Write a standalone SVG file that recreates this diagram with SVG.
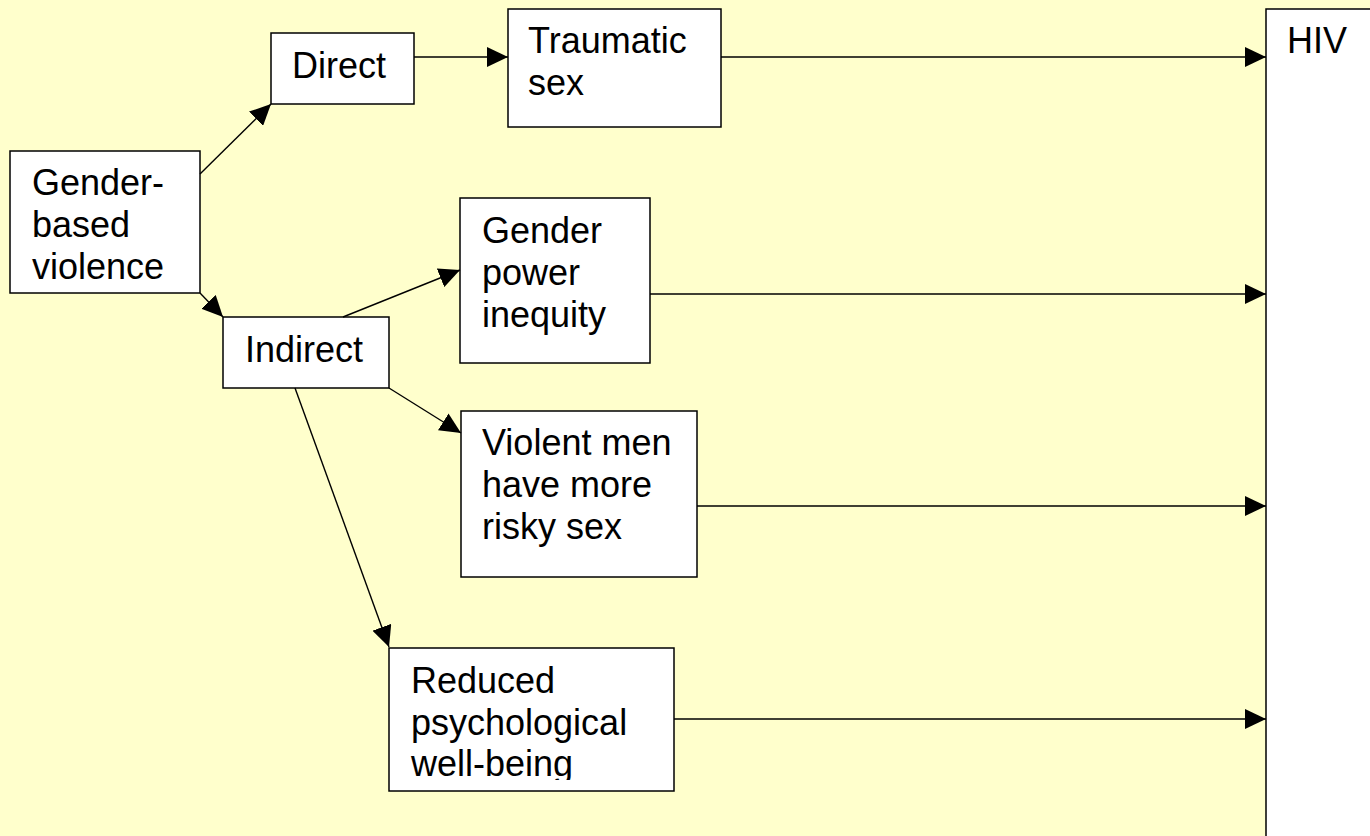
<svg xmlns="http://www.w3.org/2000/svg" width="1370" height="836" viewBox="0 0 1370 836">
  <style>
    .box { fill: #ffffff; stroke: #000000; stroke-width: 1.5; }
    .lbl { font-family: "Liberation Sans", Arial, sans-serif; font-size: 36px; fill: #000000; }
    .conn line { stroke: #000000; stroke-width: 1.4; marker-end: url(#arrow); }
  </style>
  <defs>
    <marker id="arrow" markerUnits="userSpaceOnUse" markerWidth="22" markerHeight="20" refX="21" refY="10" orient="auto">
      <path d="M0,0 L21,10 L0,20 Z" fill="#000000"/>
    </marker>
    <clipPath id="clipReduced">
      <rect x="389" y="648" width="285" height="132"/>
    </clipPath>
  </defs>
  <rect x="0" y="0" width="1370" height="836" fill="#ffffcc"/>

  <g id="hiv">
    <path d="M1266,836 L1266,9 L1370,9 L1370,836 Z" fill="#ffffff"/>
    <path d="M1266,836 L1266,9 L1370,9" fill="none" stroke="#000000" stroke-width="1.5"/>
    <text class="lbl" x="1287" y="53">HIV</text>
  </g>

  <g id="gbv">
    <rect class="box" x="10" y="151" width="190" height="142"/>
    <text class="lbl" x="32" y="195">Gender-</text>
    <text class="lbl" x="32" y="237">based</text>
    <text class="lbl" x="32" y="279">violence</text>
  </g>

  <g id="direct">
    <rect class="box" x="271" y="33" width="143" height="71"/>
    <text class="lbl" x="292" y="78">Direct</text>
  </g>

  <g id="traumatic">
    <rect class="box" x="508" y="9" width="213" height="118"/>
    <text class="lbl" x="528" y="53">Traumatic</text>
    <text class="lbl" x="528" y="95">sex</text>
  </g>

  <g id="indirect">
    <rect class="box" x="223" y="317" width="166" height="71"/>
    <text class="lbl" x="245" y="362">Indirect</text>
  </g>

  <g id="power">
    <rect class="box" x="460" y="198" width="190" height="165"/>
    <text class="lbl" x="482" y="243">Gender</text>
    <text class="lbl" x="482" y="285">power</text>
    <text class="lbl" x="482" y="327">inequity</text>
  </g>

  <g id="violent">
    <rect class="box" x="461" y="411" width="236" height="166"/>
    <text class="lbl" x="482" y="455">Violent men</text>
    <text class="lbl" x="482" y="497">have more</text>
    <text class="lbl" x="482" y="539">risky sex</text>
  </g>

  <g id="reduced">
    <rect class="box" x="389" y="648" width="285" height="143"/>
    <g clip-path="url(#clipReduced)">
      <text class="lbl" x="411" y="693">Reduced</text>
      <text class="lbl" x="411" y="735">psychological</text>
      <text class="lbl" x="411" y="776">well-being</text>
    </g>
  </g>

  <g id="connectors" class="conn">
    <line x1="200" y1="174" x2="271" y2="104"/>
    <line x1="200" y1="293" x2="223" y2="317"/>
    <line x1="414" y1="57" x2="508" y2="57"/>
    <line x1="721" y1="57" x2="1266" y2="57"/>
    <line x1="343" y1="317" x2="460" y2="270"/>
    <line x1="389" y1="388" x2="461" y2="433"/>
    <line x1="295" y1="388" x2="389" y2="647"/>
    <line x1="650" y1="294" x2="1266" y2="294"/>
    <line x1="697" y1="506" x2="1266" y2="506"/>
    <line x1="674" y1="719" x2="1266" y2="719"/>
  </g>
</svg>
